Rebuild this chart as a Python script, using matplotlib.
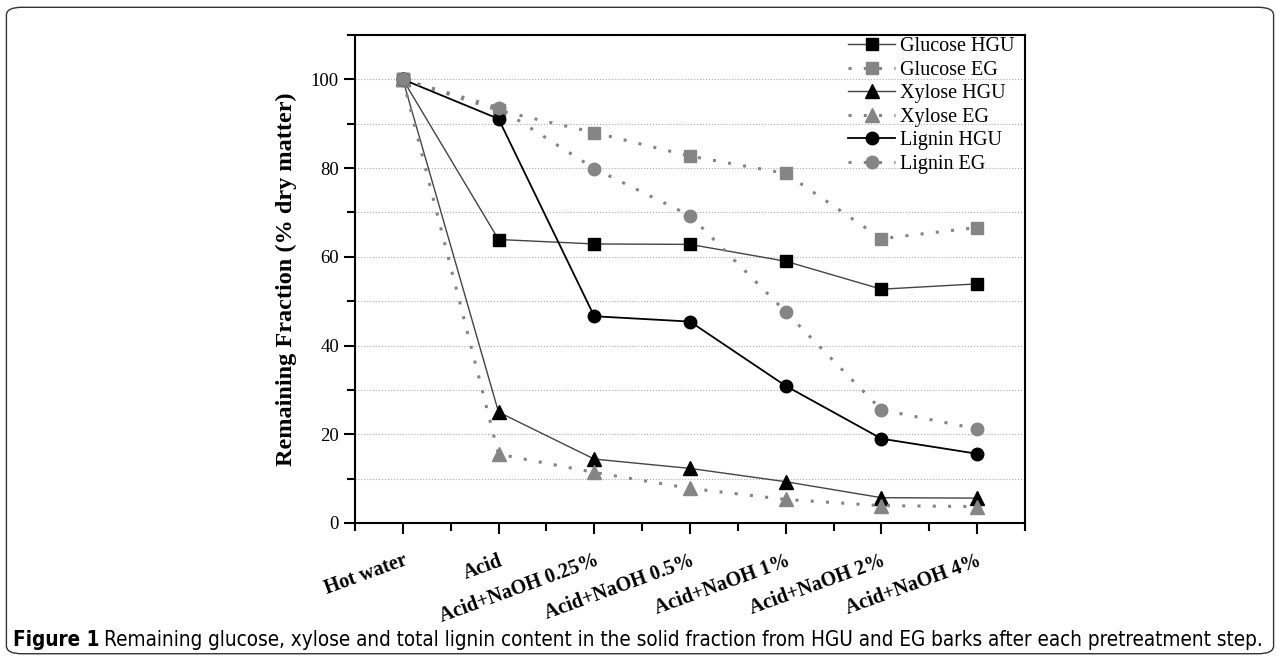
import matplotlib
matplotlib.use('Agg')
from matplotlib import pyplot as plt
from matplotlib.patches import FancyBboxPatch
from matplotlib.ticker import MultipleLocator

categories = ['Hot water', 'Acid', 'Acid+NaOH 0.25%', 'Acid+NaOH 0.5%',
              'Acid+NaOH 1%', 'Acid+NaOH 2%', 'Acid+NaOH 4%']
glucose_hgu = [100, 63.9, 62.9, 62.8, 59.0, 52.7, 53.9]
glucose_eg = [100, 93.0, 88.0, 82.7, 78.8, 64.1, 66.6]
xylose_hgu = [100, 25.0, 14.4, 12.3, 9.3, 5.7, 5.6]
xylose_eg = [100, 15.5, 11.4, 7.8, 5.3, 3.9, 3.7]
lignin_hgu = [100, 91.1, 46.6, 45.4, 30.9, 19.0, 15.6]
lignin_eg = [100, 93.6, 79.9, 69.3, 47.6, 25.5, 21.2]

caption_bold = 'Figure 1'
caption = ('Remaining glucose, xylose and total lignin content in the solid fraction '
           'from HGU and EG barks after each pretreatment step.')

serif = ['Liberation Serif', 'DejaVu Serif']
sans = ['DejaVu Sans']
gray = '#858585'
dots = (0, (1, 4))

fig = plt.figure(figsize=(12.8, 6.63), dpi=100)

# rounded border round the whole figure
border = FancyBboxPatch((0.005, 0.014), 0.99, 0.975, boxstyle='round,pad=0,rounding_size=0.012',
                        transform=fig.transFigure, fill=False, edgecolor='#333333', linewidth=1.0)
fig.patches.append(border)

ax = fig.add_axes([0.2773, 0.2112, 0.5235, 0.736])
x = list(range(len(categories)))

ax.plot(x, glucose_hgu, '-', color='#444444', lw=1.0, marker='s', ms=9, mfc='black', mec='black', label='Glucose HGU')
ax.plot(x, glucose_eg, linestyle=dots, color=gray, lw=2.2, marker='s', ms=9, mfc=gray, mec=gray, label='Glucose EG')
ax.plot(x, xylose_hgu, '-', color='#444444', lw=1.0, marker='^', ms=10, mfc='black', mec='black', label='Xylose HGU')
ax.plot(x, xylose_eg, linestyle=dots, color=gray, lw=2.2, marker='^', ms=10, mfc=gray, mec=gray, label='Xylose EG')
ax.plot(x, lignin_hgu, '-', color='black', lw=1.3, marker='o', ms=9, mfc='black', mec='black', label='Lignin HGU')
ax.plot(x, lignin_eg, linestyle=dots, color=gray, lw=2.2, marker='o', ms=9, mfc=gray, mec=gray, label='Lignin EG')

ax.set_xlim(-0.5, 6.5)
ax.set_ylim(0, 110)
ax.yaxis.set_major_locator(MultipleLocator(20))
ax.yaxis.set_minor_locator(MultipleLocator(10))
ax.set_xticks(x)
ax.set_xticks([i - 0.5 for i in range(len(categories) + 1)], minor=True)
ax.set_xticklabels(categories, rotation=20, ha='right', rotation_mode='anchor',
                   fontfamily=serif, fontweight='bold', fontsize=14.5)
for lab in ax.get_yticklabels():
    lab.set_fontfamily(serif)
    lab.set_fontsize(13.5)

ax.grid(True, which='both', axis='y', linestyle=':', color='#aaaaaa', linewidth=0.8)
ax.tick_params(axis='both', which='both', direction='out', width=1.5)
ax.tick_params(axis='both', which='major', length=8)
ax.tick_params(axis='both', which='minor', length=6)
ax.tick_params(axis='x', which='major', pad=12)
for s in ax.spines.values():
    s.set_linewidth(1.5)

ax.set_ylabel('Remaining Fraction (% dry matter)', fontfamily=serif, fontweight='bold', fontsize=17.5, labelpad=10)

ax.legend(loc='upper right', bbox_to_anchor=(0.99, 1.004), frameon=False, prop={'family': serif, 'size': 14.5},
          handlelength=2.3, labelspacing=0.22, borderaxespad=0.1, borderpad=0.1, handletextpad=0.25)

# caption: bold "Figure 1" then the plain text, fitted to the box width
size = 15
t1 = fig.text(0.010, 0.035, caption_bold, fontfamily=sans, fontweight='bold', fontsize=size,
              fontstretch='condensed', va='center')
t2 = fig.text(0.1, 0.035, caption, fontfamily=sans, fontsize=size, fontstretch='condensed', va='center')
r = fig.canvas.get_renderer()
w = t1.get_window_extent(r).width + t2.get_window_extent(r).width + 5
size = size * 1258 / w
t1.set_fontsize(size)
t2.set_fontsize(size)
e1 = t1.get_window_extent(r)
t2.set_x((e1.x1 + 5) / fig.bbox.width)

plt.savefig('out.png', dpi=100)
